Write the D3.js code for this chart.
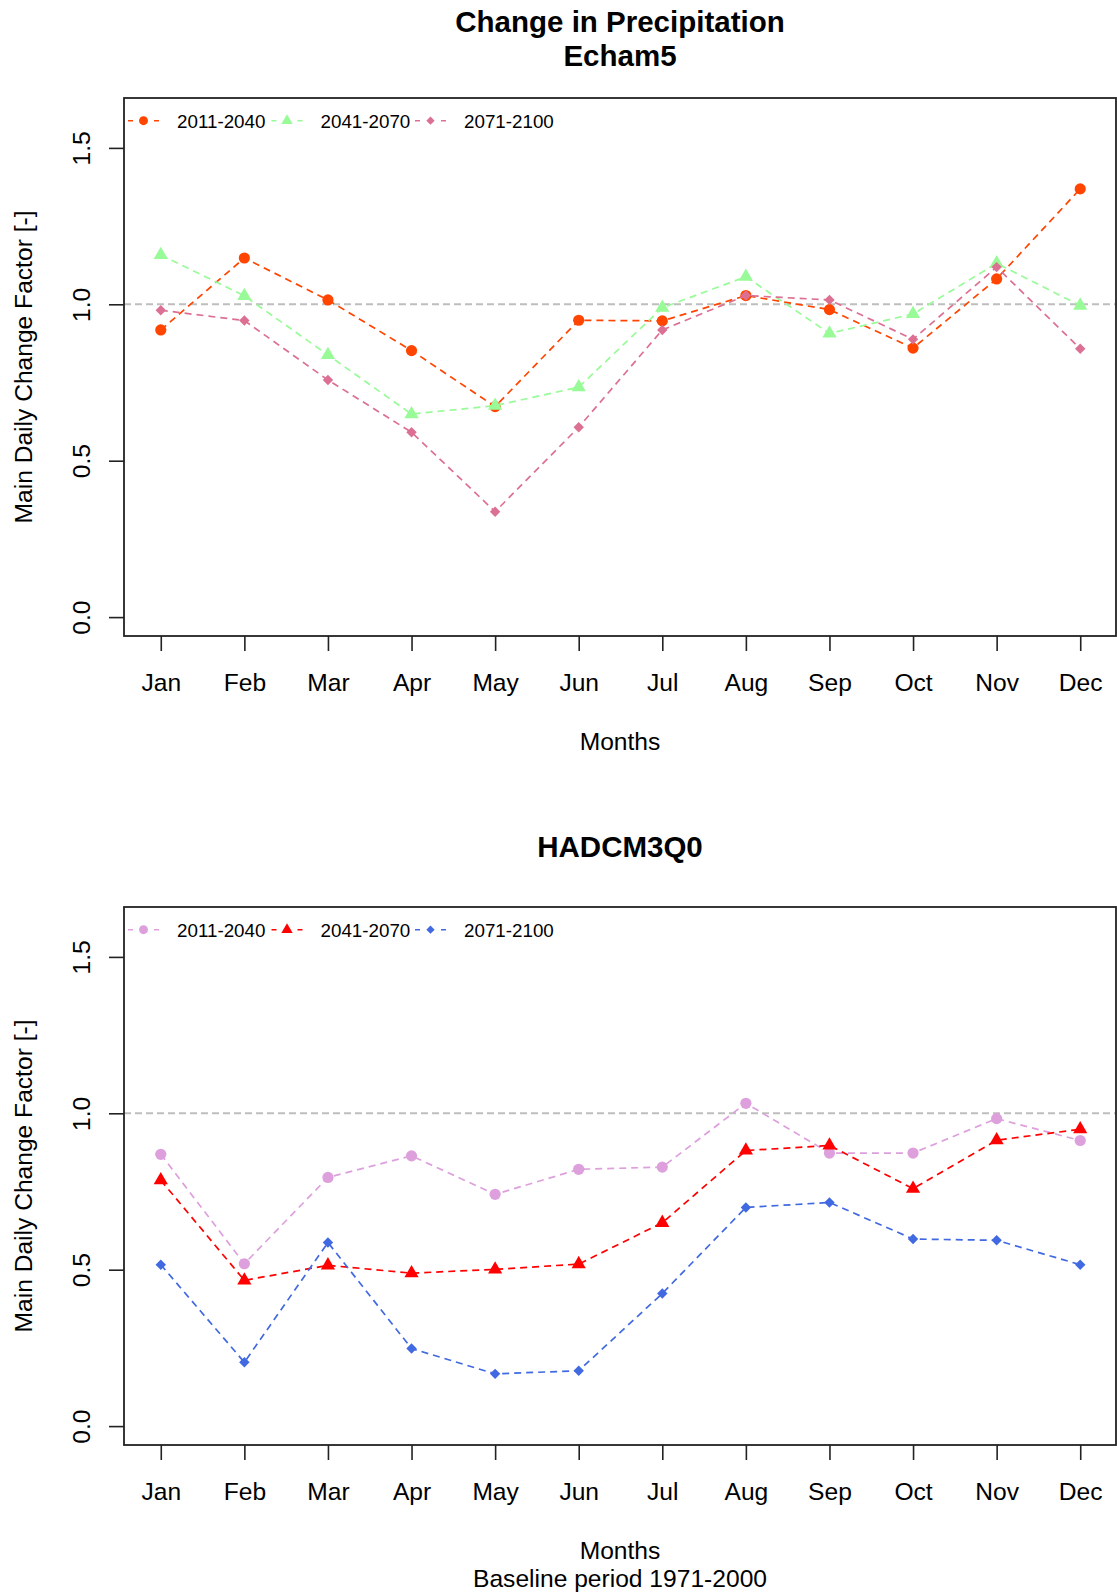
<!DOCTYPE html>
<html>
<head>
<meta charset="utf-8">
<script src="https://cdn.jsdelivr.net/npm/d3@7"></script>
<style>
  html, body { margin: 0; padding: 0; background: #fff; }
  svg { display: block; }
  text { font-family: "Liberation Sans", Arial, sans-serif; fill: #000; }
</style>
</head>
<body>
<svg id="chart" width="1117" height="1596"></svg>
<script>
// ---------------- data ----------------
const months = ["Jan","Feb","Mar","Apr","May","Jun","Jul","Aug","Sep","Oct","Nov","Dec"];
const periods = ["2011-2040","2041-2070","2071-2100"];
const yTicks = [0, 0.5, 1.0, 1.5];
const yTickLabels = ["0.0","0.5","1.0","1.5"];

const echam5_2011_2040 = [0.918,1.148,1.014,0.852,0.673,0.949,0.947,1.028,0.983,0.860,1.081,1.369];
const echam5_2041_2070 = [1.158,1.027,0.838,0.649,0.676,0.735,0.989,1.088,0.907,0.969,1.131,0.996];
const echam5_2071_2100 = [0.981,0.948,0.758,0.591,0.337,0.607,0.918,1.028,1.014,0.888,1.119,0.858];

const hadcm_2011_2040 = [0.869,0.519,0.795,0.864,0.741,0.821,0.828,1.032,0.873,0.873,0.983,0.913];
const hadcm_2041_2070 = [0.786,0.466,0.514,0.489,0.501,0.518,0.650,0.881,0.897,0.759,0.914,0.949];
const hadcm_2071_2100 = [0.516,0.204,0.587,0.248,0.167,0.177,0.424,0.699,0.715,0.598,0.594,0.516];

const echamColors = ["#FF4500", "#98FB98", "#DB7093"];
const hadcmColors = ["#DDA0DD", "#FF0000", "#4169E1"];
const shapes = ["circle", "triangle", "diamond"];
const referenceValue = 1.0;

// ---------------- drawing ----------------
const svg = d3.select("#chart");
const FONT = '"Liberation Sans", Arial, sans-serif';

function symbolPath(shape, s) {
  if (shape === "circle") {
    const r = 5.6 * s;
    return `M${-r},0A${r},${r} 0 1,0 ${r},0A${r},${r} 0 1,0 ${-r},0Z`;
  }
  if (shape === "triangle") {
    const r = 8.2 * s, xc = r * Math.sqrt(3) / 2, yc = r / 2;
    return `M0,${-r}L${xc},${yc}L${-xc},${yc}Z`;
  }
  const d = 5.2 * s;
  return `M0,${-d}L${d},0L0,${d}L${-d},0Z`;
}

function panel(cfg) {
  const g = svg.append("g").attr("transform", `translate(0,${cfg.offset})`);
  const left = 124, right = 1116, top = 98, bottom = 636;

  const x = d3.scaleLinear().domain([0.56, 12.44]).range([124, 1117]);
  const y = d3.scaleLinear().domain([0, 1.5]).range([617.1, 147.9]);

  // reference line
  g.append("line")
    .attr("x1", left).attr("x2", right)
    .attr("y1", y(referenceValue)).attr("y2", y(referenceValue))
    .attr("stroke", "#BEBEBE").attr("stroke-width", 2)
    .attr("stroke-dasharray", "7,4");

  // series
  cfg.series.forEach((vals, i) => {
    const line = d3.line().x((d, j) => x(j + 1)).y(d => y(d));
    g.append("path").datum(vals)
      .attr("d", line)
      .attr("fill", "none")
      .attr("stroke", cfg.colors[i])
      .attr("stroke-width", 1.7)
      .attr("stroke-dasharray", "7,5");
    g.selectAll(null).data(vals).enter().append("path")
      .attr("transform", (d, j) => `translate(${x(j + 1)},${y(d)})`)
      .attr("d", symbolPath(shapes[i], 1))
      .attr("fill", cfg.colors[i]);
  });

  // box
  g.append("rect")
    .attr("x", left).attr("y", top)
    .attr("width", right - left).attr("height", bottom - top)
    .attr("fill", "none").attr("stroke", "#222").attr("stroke-width", 1.8);

  // x axis
  const xAxis = d3.axisBottom(x)
    .tickValues(d3.range(1, 13))
    .tickFormat(d => months[d - 1])
    .tickSize(15);
  const xa = g.append("g").attr("transform", `translate(0,${bottom})`).call(xAxis);
  xa.select(".domain").remove();
  xa.selectAll(".tick line").attr("stroke", "#222").attr("stroke-width", 1.6);
  xa.selectAll(".tick text")
    .attr("y", 54.5).attr("dy", 0)
    .style("font-size", "24.6px")
    .style("font-family", FONT)
    .attr("fill", "#000");

  // y axis
  const yAxis = d3.axisLeft(y)
    .tickValues(yTicks)
    .tickFormat((d, i) => yTickLabels[i])
    .tickSize(15);
  const ya = g.append("g").attr("transform", `translate(${left},0)`).call(yAxis);
  ya.select(".domain").remove();
  ya.selectAll(".tick line").attr("stroke", "#222").attr("stroke-width", 1.6);
  ya.selectAll(".tick text")
    .attr("transform", "rotate(-90)")
    .attr("x", 0).attr("y", -34.4).attr("dy", 0)
    .attr("text-anchor", "middle")
    .style("font-size", "24.6px")
    .style("font-family", FONT)
    .attr("fill", "#000");

  // y label
  g.append("text")
    .attr("transform", `translate(32,367) rotate(-90)`)
    .attr("text-anchor", "middle")
    .style("font-size", "24.6px")
    .text("Main Daily Change Factor [-]");

  // x label
  g.append("text")
    .attr("x", 620).attr("y", 750)
    .attr("text-anchor", "middle")
    .style("font-size", "24.6px")
    .text("Months");

  // legend
  const legY = 120.7;
  periods.forEach((p, i) => {
    const x0 = 128 + i * 143.5;
    const lg = g.append("g");
    lg.append("line")
      .attr("x1", x0).attr("x2", x0 + 31)
      .attr("y1", legY).attr("y2", legY)
      .attr("stroke", cfg.colors[i]).attr("stroke-width", 1.5)
      .attr("stroke-dasharray", "5,21,5");
    lg.append("path")
      .attr("transform", `translate(${x0 + 15.5},${legY})`)
      .attr("d", symbolPath(shapes[i], 0.8))
      .attr("fill", cfg.colors[i]);
    lg.append("text")
      .attr("x", x0 + 49).attr("y", legY + 7)
      .style("font-size", "18.8px")
      .text(p);
  });
}

// titles
svg.append("text").attr("x", 620).attr("y", 32).attr("text-anchor", "middle")
  .style("font-size", "29.5px").style("font-weight", "bold").text("Change in Precipitation");
svg.append("text").attr("x", 620).attr("y", 66).attr("text-anchor", "middle")
  .style("font-size", "29.5px").style("font-weight", "bold").text("Echam5");
svg.append("text").attr("x", 620).attr("y", 857).attr("text-anchor", "middle")
  .style("font-size", "29.5px").style("font-weight", "bold").text("HADCM3Q0");

panel({ offset: 0, series: [echam5_2011_2040, echam5_2041_2070, echam5_2071_2100], colors: echamColors });
panel({ offset: 809, series: [hadcm_2011_2040, hadcm_2041_2070, hadcm_2071_2100], colors: hadcmColors });

svg.append("text").attr("x", 620).attr("y", 1587).attr("text-anchor", "middle")
  .style("font-size", "24.6px").text("Baseline period 1971-2000");
</script>
</body>
</html>
